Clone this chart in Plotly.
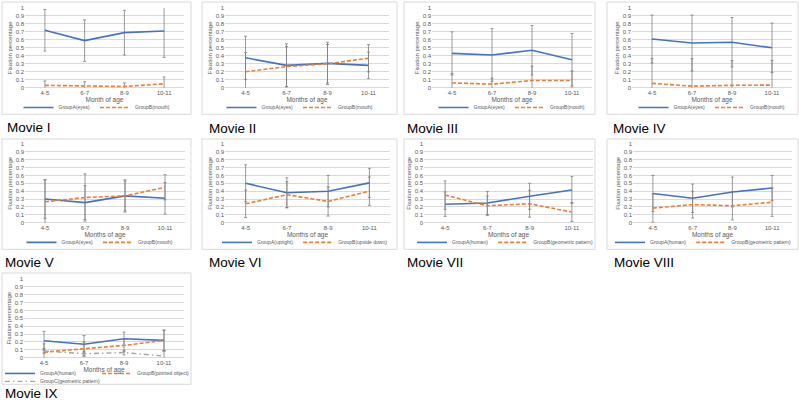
import plotly.graph_objects as go

# Fixation percentage by months of age, nine movies

months = ["4-5", "6-7", "8-9", "10-11"]
movie_titles = ["Movie I", "Movie II", "Movie III", "Movie IV", "Movie V",
                "Movie VI", "Movie VII", "Movie VIII", "Movie IX"]
x_titles = ["Month of age"] + ["Months of age"] * 8

names_a = ["GroupA(eyes)"] * 5 + ["GroupA(upright)", "GroupA(human)", "GroupA(human)", "GroupA(human)"]
names_b = ["GroupB(mouth)"] * 5 + ["GroupB(upside down)", "GroupB(geometric pattern)",
                                   "GroupB(geometric pattern)", "GroupB(pointed object)"]
name_c = "GroupC(geometric pattern)"

m1_a = [0.72, 0.59, 0.69, 0.71]
m1_a_err = [0.26, 0.26, 0.28, 0.33]
m1_b = [0.03, 0.02, 0.015, 0.05]
m1_b_err = [0.055, 0.055, 0.045, 0.085]

m2_a = [0.375, 0.28, 0.305, 0.28]
m2_a_err = [0.27, 0.27, 0.265, 0.165]
m2_b = [0.20, 0.265, 0.30, 0.37]
m2_b_err = [0.24, 0.25, 0.24, 0.17]

m3_a = [0.43, 0.41, 0.47, 0.35]
m3_a_err = [0.27, 0.33, 0.31, 0.33]
m3_b = [0.06, 0.045, 0.09, 0.09]
m3_b_err = [0.12, 0.075, 0.18, 0.12]

m4_a = [0.61, 0.56, 0.57, 0.50]
m4_a_err = [0.30, 0.35, 0.31, 0.31]
m4_b = [0.055, 0.02, 0.03, 0.033]
m4_b_err = [0.31, 0.345, 0.31, 0.31]

m5_a = [0.30, 0.255, 0.34, 0.31]
m5_a_err = [0.245, 0.215, 0.19, 0.20]
m5_b = [0.265, 0.32, 0.34, 0.45]
m5_b_err = [0.28, 0.30, 0.205, 0.16]

m6_a = [0.50, 0.38, 0.40, 0.505]
m6_a_err = [0.235, 0.19, 0.20, 0.185]
m6_b = [0.24, 0.355, 0.27, 0.40]
m6_b_err = [0.175, 0.165, 0.185, 0.18]

m7_a = [0.235, 0.25, 0.335, 0.415]
m7_a_err = [0.155, 0.145, 0.165, 0.17]
m7_b = [0.35, 0.215, 0.24, 0.135]
m7_b_err = [0.18, 0.125, 0.17, 0.12]

m8_a = [0.37, 0.31, 0.39, 0.44]
m8_a_err = [0.23, 0.18, 0.19, 0.16]
m8_b = [0.185, 0.23, 0.215, 0.26]
m8_b_err = [0.18, 0.17, 0.18, 0.18]

m9_a = [0.215, 0.17, 0.24, 0.22]
m9_a_err = [0.12, 0.11, 0.085, 0.13]
m9_b = [0.07, 0.11, 0.155, 0.22]
m9_b_err = [0.105, 0.09, 0.08, 0.13]
m9_c = [0.085, 0.05, 0.065, 0.02]
m9_c_err = [0.03, 0.03, 0.03, 0.06]

series_a = [m1_a, m2_a, m3_a, m4_a, m5_a, m6_a, m7_a, m8_a, m9_a]
errs_a = [m1_a_err, m2_a_err, m3_a_err, m4_a_err, m5_a_err, m6_a_err, m7_a_err, m8_a_err, m9_a_err]
series_b = [m1_b, m2_b, m3_b, m4_b, m5_b, m6_b, m7_b, m8_b, m9_b]
errs_b = [m1_b_err, m2_b_err, m3_b_err, m4_b_err, m5_b_err, m6_b_err, m7_b_err, m8_b_err, m9_b_err]

# ---- layout in pixels (figure is 799 x 406)
W, H = 799, 406
plot_x = [(25, 184), (225, 389), (432, 592), (632, 792),
          (25, 185), (225, 390), (424, 593), (633, 792), (24, 184)]
row_plot_y = [(5, 86), (143, 223), (280, 360)]
box_x = [(2, 191), (202, 397), (404, 595), (607, 798),
         (2, 191), (202, 397), (404, 595), (607, 798), (2, 191)]
row_box_y = [(-1, 113), (138, 250), (274, 387)]
label_pos = [(5, 126), (207, 127), (405, 127), (611, 127),
             (3, 263), (207, 263), (405, 263), (612, 263), (3, 396)]
legend_cx = [97, 300, 512, 712, 100, 305, 505, 703, 0]
row_legend_y = [106, 243, 376]

BLUE = "#4472C4"
ORANGE = "#ED7D31"
GREY = "#A5A5A5"
ERR = "#7F7F7F"
GRID = "#D9D9D9"
TXT = "#595959"
FONT = "Liberation Sans, Arial, sans-serif"


def px(x):
    return x / W


def py(y):
    return 1 - y / H


fig = go.Figure()
layout = {}
shapes = []
annotations = []

for i in range(9):
    row = i // 4 if i < 8 else 2
    n = i + 1
    sfx = "" if n == 1 else str(n)
    leg = "legend" if n == 1 else "legend" + str(n)
    xa, ya = "x" + sfx, "y" + sfx

    fig.add_trace(go.Scatter(
        x=months, y=series_a[i], name=names_a[i], mode="lines",
        line=dict(color=BLUE, width=1.6),
        error_y=dict(type="data", array=errs_a[i], color=ERR, thickness=0.8, width=1.5),
        xaxis=xa, yaxis=ya, legend=leg,
    ))
    fig.add_trace(go.Scatter(
        x=months, y=series_b[i], name=names_b[i], mode="lines",
        line=dict(color=ORANGE, width=1.6, dash="4px,2px"),
        error_y=dict(type="data", array=errs_b[i], color=ERR, thickness=0.8, width=1.5),
        xaxis=xa, yaxis=ya, legend=leg,
    ))
    if n == 9:
        fig.add_trace(go.Scatter(
            x=months, y=m9_c, name=name_c, mode="lines",
            line=dict(color=GREY, width=1.4, dash="5px,3px,1.5px,3px"),
            error_y=dict(type="data", array=m9_c_err, color=ERR, thickness=0.8, width=1.5),
            xaxis=xa, yaxis=ya, legend="legend10",
        ))

    x0, x1 = plot_x[i]
    yt, yb = row_plot_y[row]
    layout["xaxis" + sfx] = dict(
        domain=[px(x0), px(x1)], anchor=ya, type="category",
        range=[-0.5, 3.5], showgrid=False, zeroline=False,
        showline=False, ticks="", tickfont=dict(size=6, color=TXT, family=FONT),
        title=dict(text=x_titles[i], font=dict(size=6.5, color=TXT, family=FONT), standoff=1),
        fixedrange=True,
    )
    layout["yaxis" + sfx] = dict(
        domain=[py(yb), py(yt)], anchor=xa, range=[0, 1], dtick=0.1,
        showgrid=True, gridcolor=GRID, gridwidth=0.8,
        zeroline=True, zerolinecolor=GRID, zerolinewidth=0.8,
        showline=False, ticks="", tickfont=dict(size=6, color=TXT, family=FONT),
        title=dict(text="Fixation percentage", font=dict(size=6, color=TXT, family=FONT), standoff=2),
        fixedrange=True,
    )

    bx0, bx1 = box_x[i]
    by0, by1 = row_box_y[row]
    shapes.append(dict(type="rect", xref="paper", yref="paper",
                       x0=px(bx0), x1=px(bx1), y0=py(by1), y1=py(by0),
                       line=dict(color=GRID, width=1), layer="below"))

    lx, ly = label_pos[i]
    annotations.append(dict(text=movie_titles[i], xref="paper", yref="paper",
                            x=px(lx), y=py(ly), xanchor="left", yanchor="middle",
                            showarrow=False, font=dict(size=13.5, color="#000000", family=FONT)))

    legend_common = dict(orientation="h", font=dict(size=5, color=TXT, family=FONT),
                         bgcolor="rgba(0,0,0,0)", itemwidth=30, tracegroupgap=0,
                         yanchor="middle", itemclick=False, itemdoubleclick=False)
    if n < 9:
        layout[leg] = dict(legend_common, x=px(legend_cx[i]), xanchor="center",
                           y=py(row_legend_y[row]))
    else:
        layout[leg] = dict(legend_common, x=px(legend_cx[i]), xanchor="left",
                           y=py(row_legend_y[row]), entrywidth=52)
        layout["legend10"] = dict(legend_common, x=px(legend_cx[i]), xanchor="left",
                                  y=py(row_legend_y[row] + 8))

fig.update_layout(
    width=W, height=H,
    margin=dict(l=0, r=0, t=0, b=0),
    paper_bgcolor="white", plot_bgcolor="white",
    font=dict(family=FONT),
    shapes=shapes, annotations=annotations,
    **layout,
)

# the page body has a default 8px margin; remove it so the figure sits at the corner
fig.write_html("out.html", config={"displayModeBar": False},
               post_script="document.body.style.margin='0px';")
